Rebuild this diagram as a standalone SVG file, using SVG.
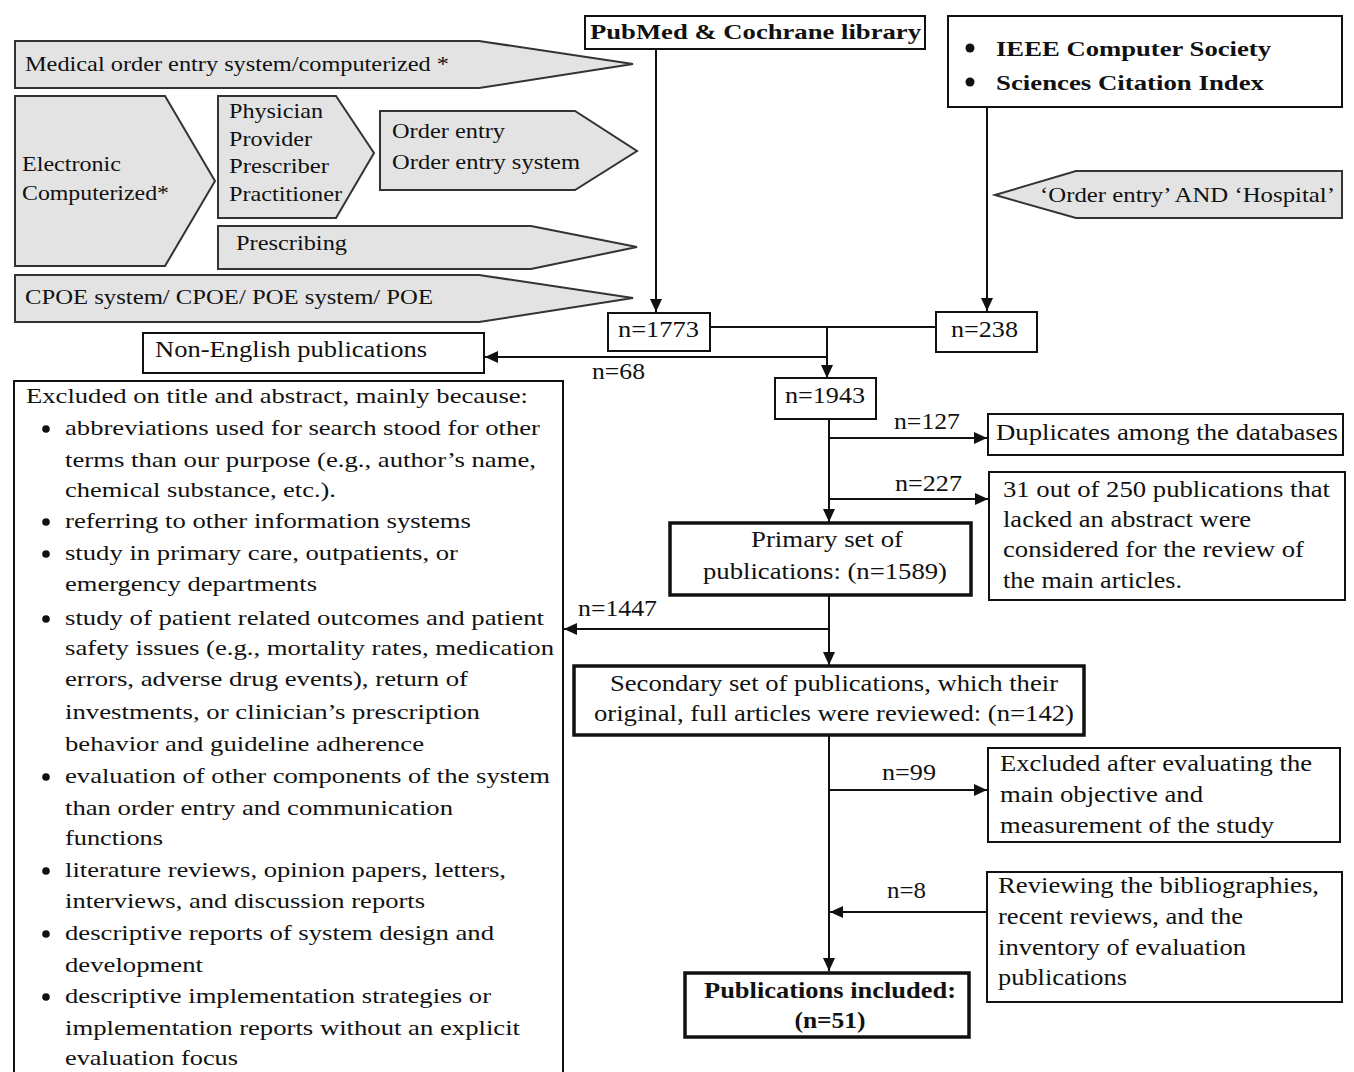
<svg xmlns="http://www.w3.org/2000/svg" width="1354" height="1072" viewBox="0 0 1354 1072">
<defs>
<style>
text{font-family:"Liberation Serif","Times New Roman",serif;fill:#111}
.t{font-size:24px}
.s{font-size:22px}
.l{font-size:22px}
.b{font-weight:bold}
.shape{fill:#e3e3e3;stroke:#333;stroke-width:2;stroke-linejoin:miter}
.box{fill:#fff;stroke:#111;stroke-width:2}
.thick{fill:#fff;stroke:#111;stroke-width:3.5}
.con{fill:none;stroke:#111;stroke-width:2}
.dot{fill:#111}
</style>
<marker id="ah" markerUnits="userSpaceOnUse" markerWidth="14" markerHeight="12" refX="13" refY="6" orient="auto">
<path d="M0,0 L13,6 L0,12 Z" fill="#111"/>
</marker>
</defs>
<rect width="1354" height="1072" fill="#fff"/>

<g id="search-terms">
<g id="term-medical">
<polygon class="shape" points="15,41 479,41 633,64 479,88 15,88"/>
<text class="s" x="25" y="71" textLength="424" lengthAdjust="spacingAndGlyphs">Medical order entry system/computerized *</text>
</g>
<g id="term-electronic">
<polygon class="shape" points="15,96 165,96 215,181 165,266 15,266"/>
<text class="s" x="22" y="171" textLength="99" lengthAdjust="spacingAndGlyphs">Electronic</text>
<text class="s" x="22" y="200" textLength="147" lengthAdjust="spacingAndGlyphs">Computerized*</text>
</g>
<g id="term-physician">
<polygon class="shape" points="218,96 336,96 374,153 336,218 218,218"/>
<text class="s" x="229" y="118" textLength="94" lengthAdjust="spacingAndGlyphs">Physician</text>
<text class="s" x="229" y="146" textLength="83" lengthAdjust="spacingAndGlyphs">Provider</text>
<text class="s" x="229" y="173" textLength="100" lengthAdjust="spacingAndGlyphs">Prescriber</text>
<text class="s" x="229" y="201" textLength="113" lengthAdjust="spacingAndGlyphs">Practitioner</text>
</g>
<g id="term-order-entry">
<polygon class="shape" points="380,111 575,111 637,151 575,190 380,190"/>
<text class="s" x="392" y="138" textLength="113" lengthAdjust="spacingAndGlyphs">Order entry</text>
<text class="s" x="392" y="169" textLength="188" lengthAdjust="spacingAndGlyphs">Order entry system</text>
</g>
<g id="term-prescribing">
<polygon class="shape" points="218,226 531,226 637,247 531,269 218,269"/>
<text class="s" x="236" y="250" textLength="111" lengthAdjust="spacingAndGlyphs">Prescribing</text>
</g>
<g id="term-cpoe">
<polygon class="shape" points="15,275 479,275 633,298 479,322 15,322"/>
<text class="s" x="25" y="304" textLength="408" lengthAdjust="spacingAndGlyphs">CPOE system/ CPOE/ POE system/ POE</text>
</g>
<g id="term-hospital">
<polygon class="shape" points="995,195 1076,171 1342,171 1342,218 1076,218"/>
<text class="s" x="1040" y="202" textLength="295" lengthAdjust="spacingAndGlyphs">‘Order entry’ AND ‘Hospital’</text>
</g>
</g>

<g id="connectors">
<line class="con" x1="656" y1="49" x2="656" y2="312" marker-end="url(#ah)"/>
<line class="con" x1="987" y1="107" x2="987" y2="311" marker-end="url(#ah)"/>
<line class="con" x1="710" y1="327" x2="935" y2="327"/>
<line class="con" x1="827" y1="327" x2="827" y2="378" marker-end="url(#ah)"/>
<line class="con" x1="827" y1="357" x2="485" y2="357" marker-end="url(#ah)"/>
<line class="con" x1="829" y1="419" x2="829" y2="522" marker-end="url(#ah)"/>
<line class="con" x1="829" y1="438" x2="987" y2="438" marker-end="url(#ah)"/>
<line class="con" x1="829" y1="499" x2="988" y2="499" marker-end="url(#ah)"/>
<line class="con" x1="829" y1="596" x2="829" y2="665" marker-end="url(#ah)"/>
<line class="con" x1="829" y1="629" x2="564" y2="629" marker-end="url(#ah)"/>
<line class="con" x1="829" y1="736" x2="829" y2="971" marker-end="url(#ah)"/>
<line class="con" x1="829" y1="790" x2="987" y2="790" marker-end="url(#ah)"/>
<line class="con" x1="987" y1="912" x2="830" y2="912" marker-end="url(#ah)"/>
</g>

<g id="labels">
<text class="t" x="592" y="379" textLength="53" lengthAdjust="spacingAndGlyphs">n=68</text>
<text class="t" x="894" y="429" textLength="66" lengthAdjust="spacingAndGlyphs">n=127</text>
<text class="t" x="895" y="491" textLength="67" lengthAdjust="spacingAndGlyphs">n=227</text>
<text class="t" x="578" y="616" textLength="79" lengthAdjust="spacingAndGlyphs">n=1447</text>
<text class="t" x="882" y="780" textLength="54" lengthAdjust="spacingAndGlyphs">n=99</text>
<text class="t" x="887" y="898" textLength="39" lengthAdjust="spacingAndGlyphs">n=8</text>
</g>

<g id="pubmed">
<rect class="box" x="585" y="16" width="340" height="33"/>
<text class="s b" x="590" y="39" textLength="331" lengthAdjust="spacingAndGlyphs">PubMed &amp; Cochrane library</text>
</g>

<g id="ieee">
<rect class="box" x="948" y="16" width="394" height="91"/>
<circle class="dot" cx="970" cy="48" r="4.5"/>
<circle class="dot" cx="970" cy="82" r="4.5"/>
<text class="s b" x="996" y="56" textLength="275" lengthAdjust="spacingAndGlyphs">IEEE Computer Society</text>
<text class="s b" x="996" y="90" textLength="268" lengthAdjust="spacingAndGlyphs">Sciences Citation Index</text>
</g>

<g id="n1773">
<rect class="box" x="608" y="313" width="102" height="38"/>
<text class="t" x="618" y="337" textLength="81" lengthAdjust="spacingAndGlyphs">n=1773</text>
</g>

<g id="n238">
<rect class="box" x="936" y="312" width="101" height="40"/>
<text class="t" x="951" y="337" textLength="67" lengthAdjust="spacingAndGlyphs">n=238</text>
</g>

<g id="non-english">
<rect class="box" x="143" y="333" width="341" height="40"/>
<text class="t" x="155" y="357" textLength="272" lengthAdjust="spacingAndGlyphs">Non-English publications</text>
</g>

<g id="n1943">
<rect class="box" x="775" y="378" width="101" height="41"/>
<text class="t" x="785" y="403" textLength="80" lengthAdjust="spacingAndGlyphs">n=1943</text>
</g>

<g id="duplicates">
<rect class="box" x="988" y="414" width="355" height="41"/>
<text class="t" x="996" y="440" textLength="342" lengthAdjust="spacingAndGlyphs">Duplicates among the databases</text>
</g>

<g id="no-abstract">
<rect class="box" x="989" y="472" width="356" height="128"/>
<text class="t" x="1003" y="497" textLength="327" lengthAdjust="spacingAndGlyphs">31 out of 250 publications that</text>
<text class="t" x="1003" y="527" textLength="248" lengthAdjust="spacingAndGlyphs">lacked an abstract were</text>
<text class="t" x="1003" y="557" textLength="301" lengthAdjust="spacingAndGlyphs">considered for the review of</text>
<text class="t" x="1003" y="588" textLength="179" lengthAdjust="spacingAndGlyphs">the main articles.</text>
</g>

<g id="primary">
<rect class="thick" x="670" y="523" width="301" height="72"/>
<text class="t" x="827" y="547" text-anchor="middle" textLength="152" lengthAdjust="spacingAndGlyphs">Primary set of</text>
<text class="t" x="825" y="579" text-anchor="middle" textLength="244" lengthAdjust="spacingAndGlyphs">publications: (n=1589)</text>
</g>

<g id="excluded-title">
<rect class="box" x="14" y="381" width="549" height="720"/>
<text class="l" x="26" y="403" textLength="502" lengthAdjust="spacingAndGlyphs">Excluded on title and abstract, mainly because:</text>
<circle class="dot" cx="46" cy="429" r="3.8"/>
<text class="l" x="65" y="435" textLength="475" lengthAdjust="spacingAndGlyphs">abbreviations used for search stood for other</text>
<text class="l" x="65" y="467" textLength="471" lengthAdjust="spacingAndGlyphs">terms than our purpose (e.g., author’s name,</text>
<text class="l" x="65" y="497" textLength="271" lengthAdjust="spacingAndGlyphs">chemical substance, etc.).</text>
<circle class="dot" cx="46" cy="522" r="3.8"/>
<text class="l" x="65" y="528" textLength="406" lengthAdjust="spacingAndGlyphs">referring to other information systems</text>
<circle class="dot" cx="46" cy="554" r="3.8"/>
<text class="l" x="65" y="560" textLength="393" lengthAdjust="spacingAndGlyphs">study in primary care, outpatients, or</text>
<text class="l" x="65" y="591" textLength="252" lengthAdjust="spacingAndGlyphs">emergency departments</text>
<circle class="dot" cx="46" cy="619" r="3.8"/>
<text class="l" x="65" y="625" textLength="479" lengthAdjust="spacingAndGlyphs">study of patient related outcomes and patient</text>
<text class="l" x="65" y="655" textLength="489" lengthAdjust="spacingAndGlyphs">safety issues (e.g., mortality rates, medication</text>
<text class="l" x="65" y="686" textLength="403" lengthAdjust="spacingAndGlyphs">errors, adverse drug events), return of</text>
<text class="l" x="65" y="719" textLength="415" lengthAdjust="spacingAndGlyphs">investments, or clinician’s prescription</text>
<text class="l" x="65" y="751" textLength="359" lengthAdjust="spacingAndGlyphs">behavior and guideline adherence</text>
<circle class="dot" cx="46" cy="777" r="3.8"/>
<text class="l" x="65" y="783" textLength="485" lengthAdjust="spacingAndGlyphs">evaluation of other components of the system</text>
<text class="l" x="65" y="815" textLength="388" lengthAdjust="spacingAndGlyphs">than order entry and communication</text>
<text class="l" x="65" y="845" textLength="98" lengthAdjust="spacingAndGlyphs">functions</text>
<circle class="dot" cx="46" cy="871" r="3.8"/>
<text class="l" x="65" y="877" textLength="441" lengthAdjust="spacingAndGlyphs">literature reviews, opinion papers, letters,</text>
<text class="l" x="65" y="908" textLength="360" lengthAdjust="spacingAndGlyphs">interviews, and discussion reports</text>
<circle class="dot" cx="46" cy="934" r="3.8"/>
<text class="l" x="65" y="940" textLength="429" lengthAdjust="spacingAndGlyphs">descriptive reports of system design and</text>
<text class="l" x="65" y="972" textLength="138" lengthAdjust="spacingAndGlyphs">development</text>
<circle class="dot" cx="46" cy="997" r="3.8"/>
<text class="l" x="65" y="1003" textLength="426" lengthAdjust="spacingAndGlyphs">descriptive implementation strategies or</text>
<text class="l" x="65" y="1035" textLength="455" lengthAdjust="spacingAndGlyphs">implementation reports without an explicit</text>
<text class="l" x="65" y="1065" textLength="173" lengthAdjust="spacingAndGlyphs">evaluation focus</text>
</g>

<g id="secondary">
<rect class="thick" x="574" y="666" width="510" height="69"/>
<text class="t" x="834" y="691" text-anchor="middle" textLength="448" lengthAdjust="spacingAndGlyphs">Secondary set of publications, which their</text>
<text class="t" x="834" y="721" text-anchor="middle" textLength="480" lengthAdjust="spacingAndGlyphs">original, full articles were reviewed: (n=142)</text>
</g>

<g id="excluded-objective">
<rect class="box" x="988" y="748" width="352" height="94"/>
<text class="t" x="1000" y="771" textLength="312" lengthAdjust="spacingAndGlyphs">Excluded after evaluating the</text>
<text class="t" x="1000" y="802" textLength="203" lengthAdjust="spacingAndGlyphs">main objective and</text>
<text class="t" x="1000" y="833" textLength="274" lengthAdjust="spacingAndGlyphs">measurement of the study</text>
</g>

<g id="bibliographies">
<rect class="box" x="987" y="872" width="355" height="130"/>
<text class="t" x="998" y="893" textLength="321" lengthAdjust="spacingAndGlyphs">Reviewing the bibliographies,</text>
<text class="t" x="998" y="924" textLength="245" lengthAdjust="spacingAndGlyphs">recent reviews, and the</text>
<text class="t" x="998" y="955" textLength="248" lengthAdjust="spacingAndGlyphs">inventory of evaluation</text>
<text class="t" x="998" y="985" textLength="129" lengthAdjust="spacingAndGlyphs">publications</text>
</g>

<g id="included">
<rect class="thick" x="685" y="973" width="284" height="64"/>
<text class="t b" x="830" y="998" text-anchor="middle" textLength="252" lengthAdjust="spacingAndGlyphs">Publications included:</text>
<text class="t b" x="830" y="1028" text-anchor="middle" textLength="71" lengthAdjust="spacingAndGlyphs">(n=51)</text>
</g>
</svg>
